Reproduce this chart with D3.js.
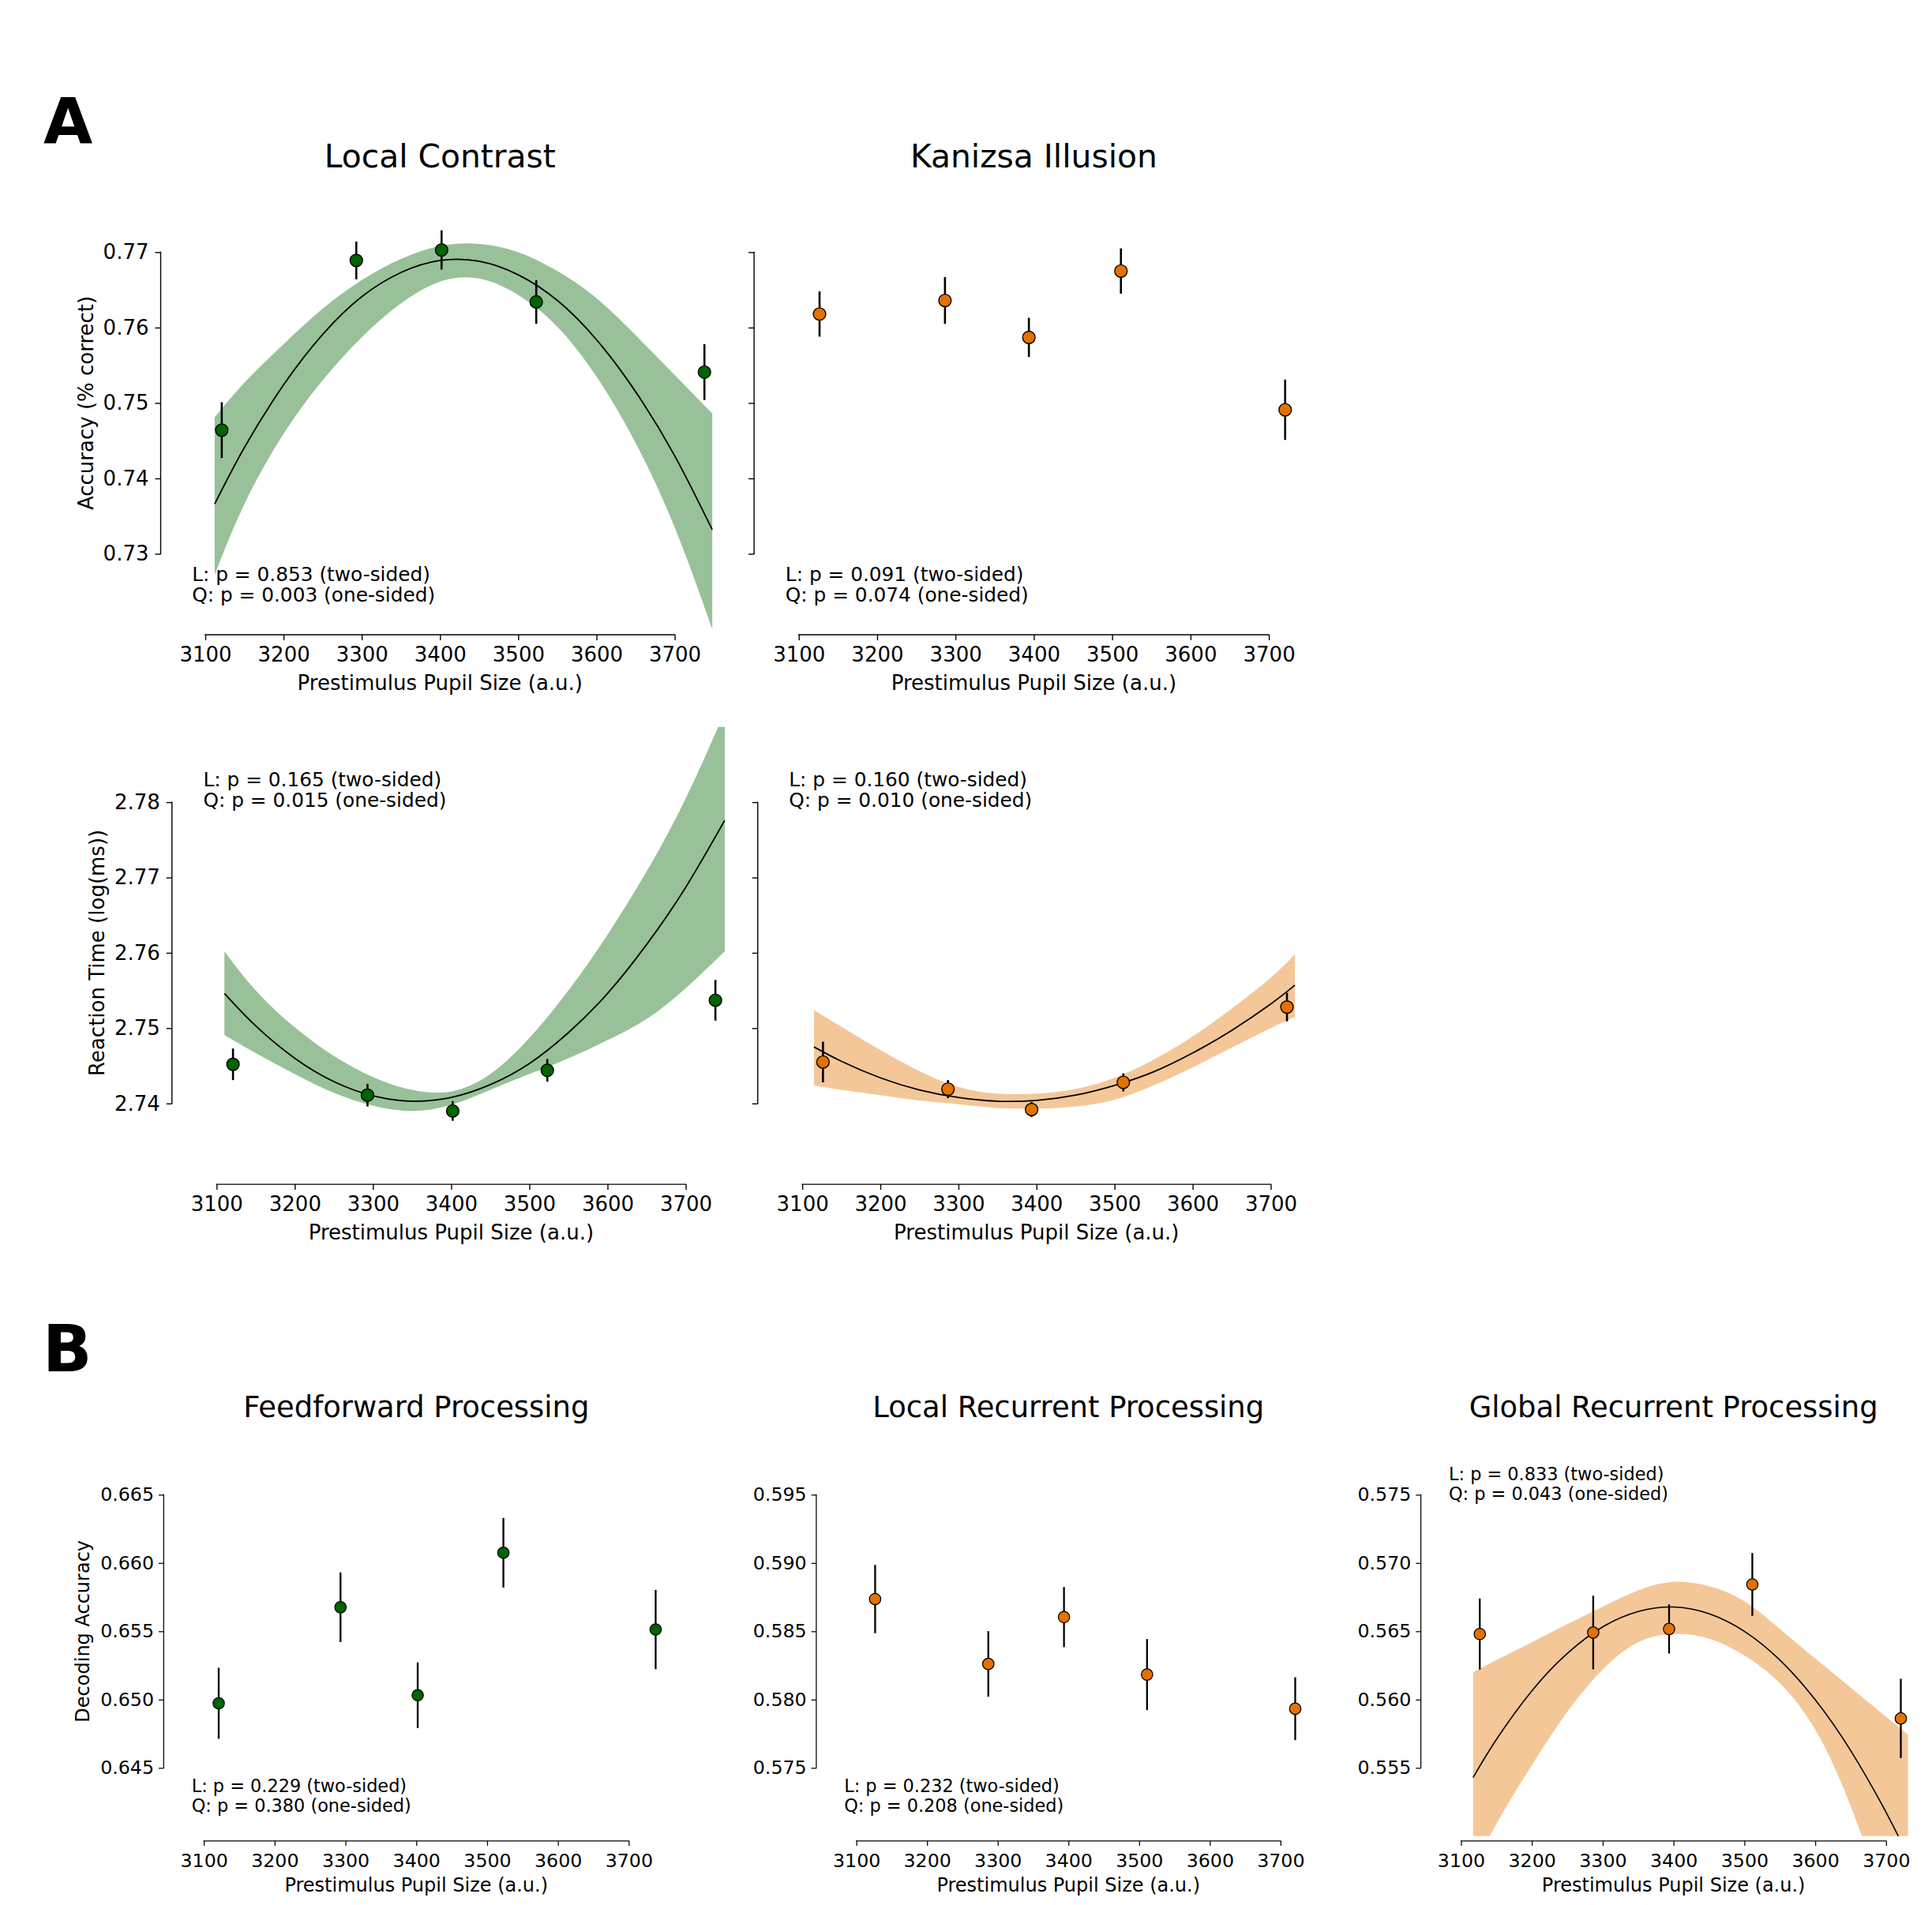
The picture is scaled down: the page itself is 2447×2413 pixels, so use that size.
<!DOCTYPE html>
<html>
<head>
<meta charset="utf-8">
<script src="https://cdn.jsdelivr.net/npm/d3@7"></script>
<style>
  body { margin: 0; background: #fff; }
  svg { display: block; }
</style>
</head>
<body>
<script>
const [W, H] = [2447, 2413];
const FONT = "'DejaVu Sans', sans-serif";

// pupil-size bins (dot x positions), one set per stimulus
const pupilLC = [3121, 3293, 3402, 3523, 3738];
const pupilKI = [3126.5, 3286.6, 3393.7, 3511.2, 3720.8];
const xTicks = [3100, 3200, 3300, 3400, 3500, 3600, 3700];
const xDomain = [3050, 3750];

// behaviour - accuracy
const accLC = [0.7464, 0.7689, 0.7703, 0.7634, 0.7541];
const accLCsem = [0.0037, 0.0025, 0.0026, 0.0029, 0.0037];
const accKI = [0.7618, 0.7636, 0.7587, 0.7675, 0.7491];
const accKIsem = [0.0030, 0.0031, 0.0026, 0.0030, 0.0040];
const accTicks = [0.73, 0.74, 0.75, 0.76, 0.77];

// behaviour - reaction time
const rtLC = [2.7452, 2.7411, 2.7390, 2.7444, 2.7537];
const rtLCsem = [0.0021, 0.0015, 0.0013, 0.0015, 0.0027];
const rtKI = [2.7455, 2.7419, 2.7392, 2.7428, 2.7528];
const rtKIsem = [0.0027, 0.0012, 0.0010, 0.0012, 0.0019];
const rtTicks = [2.74, 2.75, 2.76, 2.77, 2.78];

// decoding accuracy
const decFF = [0.64973, 0.65676, 0.65032, 0.66075, 0.65513];
const decFFsem = [0.0026, 0.00255, 0.0024, 0.00255, 0.0029];
const decLR = [0.58736, 0.58261, 0.58604, 0.58183, 0.57933];
const decLRsem = [0.0025, 0.0024, 0.0022, 0.0026, 0.0023];
const decGR = [0.5648, 0.56491, 0.56517, 0.56843, 0.55862];
const decGRsem = [0.0026, 0.0027, 0.0018, 0.0023, 0.0029];
const ffTicks = [0.645, 0.650, 0.655, 0.660, 0.665];
const lrTicks = [0.575, 0.580, 0.585, 0.590, 0.595];
const grTicks = [0.555, 0.560, 0.565, 0.570, 0.575];

// quadratic fits with their bands
const fitXAccLC = [3112, 3150, 3200, 3250, 3300, 3350, 3400, 3450, 3500, 3550, 3600, 3650, 3700, 3748];
const fitAccLC = [0.7366, 0.7441, 0.7524, 0.7591, 0.7641, 0.7673, 0.7689, 0.7688, 0.7670, 0.7636, 0.7584, 0.7515, 0.7430, 0.7332];
const hiAccLC = [0.7481, 0.7527, 0.7578, 0.7625, 0.7663, 0.7691, 0.7708, 0.7711, 0.7700, 0.7675, 0.7639, 0.7590, 0.7537, 0.7486];
const loAccLC = [0.7272, 0.7366, 0.7459, 0.7530, 0.7587, 0.7632, 0.7661, 0.7665, 0.7643, 0.7601, 0.7535, 0.7447, 0.7335, 0.7200];

const fitXRtLC = [3110, 3150, 3200, 3250, 3300, 3350, 3400, 3450, 3500, 3550, 3600, 3650, 3700, 3750];
const fitRtLC = [2.7546, 2.7503, 2.7460, 2.7429, 2.7410, 2.7403, 2.7408, 2.7425, 2.7453, 2.7494, 2.7546, 2.7611, 2.7687, 2.7776];
const hiRtLC = [2.7602, 2.7550, 2.7501, 2.7463, 2.7435, 2.7418, 2.7416, 2.7439, 2.7487, 2.7550, 2.7624, 2.7708, 2.7805, 2.7920];
const loRtLC = [2.7491, 2.7467, 2.7439, 2.7414, 2.7397, 2.7390, 2.7398, 2.7418, 2.7439, 2.7460, 2.7484, 2.7512, 2.7553, 2.7602];

const fitXRtKI = [3115, 3150, 3200, 3250, 3300, 3350, 3400, 3450, 3500, 3550, 3600, 3650, 3700, 3731];
const fitRtKI = [2.7475, 2.7456, 2.7434, 2.7418, 2.7408, 2.7403, 2.7404, 2.7411, 2.7424, 2.7442, 2.7467, 2.7497, 2.7532, 2.7557];
const hiRtKI = [2.7524, 2.7502, 2.7471, 2.7443, 2.7422, 2.7413, 2.7413, 2.7419, 2.7434, 2.7458, 2.7489, 2.7526, 2.7567, 2.7598];
const loRtKI = [2.7424, 2.7418, 2.7411, 2.7404, 2.7399, 2.7394, 2.7393, 2.7396, 2.7405, 2.7424, 2.7448, 2.7474, 2.7500, 2.7515];

const fitXGR = [3117, 3150, 3200, 3250, 3300, 3350, 3400, 3450, 3500, 3550, 3600, 3650, 3700, 3731];
const fitGR = [0.55429, 0.55708, 0.56064, 0.56338, 0.56532, 0.56645, 0.56678, 0.56629, 0.56500, 0.56290, 0.55999, 0.55627, 0.55175, 0.54854];
const hiGR = [0.56201, 0.56290, 0.56420, 0.56553, 0.56680, 0.56800, 0.56862, 0.56830, 0.56720, 0.56517, 0.56301, 0.56088, 0.55874, 0.55742];
const loGR = [0.54750, 0.55090, 0.55520, 0.55910, 0.56220, 0.56420, 0.56480, 0.56447, 0.56322, 0.56120, 0.55780, 0.55220, 0.54500, 0.54030];

const GREEN = '#006400';
const ORANGE = '#e37200';
const XLABEL = 'Prestimulus Pupil Size (a.u.)';

// the two halves of the figure are drawn at slightly different scales
const styleA = { tick: 26, label: 26, title: 40.8, note: 24.8, tickLen: 7, offset: 7, yPad: 8, xPad: 8.8,
                 r: 7.9, errW: 2.6, lineW: 1.8, spineW: 1.4, edgeW: 1.4,
                 titleUp: 11.7, xlabDown: 70, ylabLeft: 86, noteBottom: 35.3, noteTop: 75.3, noteLH: 26.2 };
const styleB = { tick: 23.7, label: 24, title: 36.9, note: 22.4, tickLen: 6.3, offset: 6, yPad: 6, xPad: 10,
                 r: 7.2, errW: 2.3, lineW: 1.6, spineW: 1.25, edgeW: 1.25,
                 titleUp: 11.8, xlabDown: 64.3, ylabLeft: 94.2, noteBottom: 31.1, noteTop: 68, noteLH: 25 };

const panels = [
    { id: 'a1', s: styleA, box: [210.5, 223.9, 693.6, 573.1], yDomain: [0.72, 0.78], yTicks: accTicks, yFmt: '.2f',
      showY: true, ylabel: 'Accuracy (% correct)', title: 'Local Contrast', color: GREEN,
      x: pupilLC, y: accLC, err: accLCsem, fit: [fitXAccLC, fitAccLC, loAccLC, hiAccLC],
      note: ['L: p = 0.853 (two-sided)', 'Q: p = 0.003 (one-sided)'], notePos: 'bottom' },
    { id: 'a2', s: styleA, box: [962.1, 223.9, 694.6, 573.1], yDomain: [0.72, 0.78], yTicks: accTicks, yFmt: '.2f',
      showY: false, title: 'Kanizsa Illusion', color: ORANGE,
      x: pupilKI, y: accKI, err: accKIsem,
      note: ['L: p = 0.091 (two-sided)', 'Q: p = 0.074 (one-sided)'], notePos: 'bottom' },
    { id: 'a3', s: styleA, box: [224.8, 920.7, 693.2, 572.4], yDomain: [2.73, 2.79], yTicks: rtTicks, yFmt: '.2f',
      showY: true, ylabel: 'Reaction Time (log(ms))', color: GREEN,
      x: pupilLC, y: rtLC, err: rtLCsem, fit: [fitXRtLC, fitRtLC, loRtLC, hiRtLC],
      note: ['L: p = 0.165 (two-sided)', 'Q: p = 0.015 (one-sided)'], notePos: 'top' },
    { id: 'a4', s: styleA, box: [966.7, 920.7, 692.2, 572.4], yDomain: [2.73, 2.79], yTicks: rtTicks, yFmt: '.2f',
      showY: false, color: ORANGE,
      x: pupilKI, y: rtKI, err: rtKIsem, fit: [fitXRtKI, fitRtKI, loRtKI, hiRtKI],
      note: ['L: p = 0.160 (two-sided)', 'Q: p = 0.010 (one-sided)'], notePos: 'top' },
    { id: 'b1', s: styleB, box: [213.3, 1806.8, 627.9, 519], yDomain: [0.640, 0.670], yTicks: ffTicks, yFmt: '.3f',
      showY: true, ylabel: 'Decoding Accuracy', title: 'Feedforward Processing', color: GREEN,
      x: pupilLC, y: decFF, err: decFFsem,
      note: ['L: p = 0.229 (two-sided)', 'Q: p = 0.380 (one-sided)'], notePos: 'bottom' },
    { id: 'b2', s: styleB, box: [1039.9, 1806.8, 626.7, 519], yDomain: [0.570, 0.600], yTicks: lrTicks, yFmt: '.3f',
      showY: true, title: 'Local Recurrent Processing', color: ORANGE,
      x: pupilKI, y: decLR, err: decLRsem,
      note: ['L: p = 0.232 (two-sided)', 'Q: p = 0.208 (one-sided)'], notePos: 'bottom' },
    { id: 'b3', s: styleB, box: [1805.6, 1806.8, 628.1, 519], yDomain: [0.550, 0.580], yTicks: grTicks, yFmt: '.3f',
      showY: true, title: 'Global Recurrent Processing', color: ORANGE,
      x: pupilKI, y: decGR, err: decGRsem, fit: [fitXGR, fitGR, loGR, hiGR],
      note: ['L: p = 0.833 (two-sided)', 'Q: p = 0.043 (one-sided)'], notePos: 'top' }
];

function drawPanel(svg, p) {
    const s = p.s;
    const [x0, y0, w, h] = p.box;
    const x = d3.scaleLinear().domain(xDomain).range([x0, x0 + w]);
    const y = d3.scaleLinear().domain(p.yDomain).range([y0 + h, y0]);
    const g = svg.append('g').attr('id', p.id);

    const clipId = 'clip-' + p.id;
    svg.append('clipPath').attr('id', clipId)
        .append('rect').attr('x', x0).attr('y', y0).attr('width', w).attr('height', h);

    // fit + band
    if (p.fit) {
        const [fx, fy, lo, hi] = p.fit;
        const pts = fx.map((v, i) => ({ x: v, y: fy[i], lo: lo[i], hi: hi[i] }));
        g.append('path').datum(pts)
            .attr('clip-path', `url(#${clipId})`)
            .attr('fill', p.color).attr('fill-opacity', 0.4)
            .attr('d', d3.area().x(d => x(d.x)).y0(d => y(d.lo)).y1(d => y(d.hi)).curve(d3.curveNatural));
        g.append('path').datum(pts)
            .attr('clip-path', `url(#${clipId})`)
            .attr('fill', 'none').attr('stroke', '#000').attr('stroke-width', s.lineW)
            .attr('d', d3.line().x(d => x(d.x)).y(d => y(d.y)).curve(d3.curveNatural));
    }

    const dots = p.x.map((v, i) => ({ x: v, y: p.y[i], e: p.err[i] }));

    // error bars
    g.selectAll('.err').data(dots).enter().append('line')
        .attr('class', 'err')
        .attr('x1', d => x(d.x)).attr('x2', d => x(d.x))
        .attr('y1', d => y(d.y - d.e)).attr('y2', d => y(d.y + d.e))
        .attr('stroke', '#000').attr('stroke-width', s.errW);

    // points
    g.selectAll('.dot').data(dots).enter().append('circle')
        .attr('class', 'dot')
        .attr('cx', d => x(d.x)).attr('cy', d => y(d.y))
        .attr('r', s.r)
        .attr('fill', p.color)
        .attr('stroke', '#000').attr('stroke-width', s.edgeW);

    // y axis (offset + trimmed spine)
    const yAxis = d3.axisLeft(y).tickValues(p.yTicks).tickSize(s.tickLen).tickPadding(s.yPad)
        .tickFormat(p.showY ? d3.format(p.yFmt) : () => '');
    const ya = g.append('g').attr('transform', `translate(${x0 - s.offset},0)`).call(yAxis);
    ya.attr('font-family', FONT).attr('font-size', s.tick);
    ya.select('.domain').remove();
    ya.selectAll('.tick line').attr('stroke-width', s.spineW);
    ya.selectAll('.tick text').attr('fill', '#000');
    ya.append('line')
        .attr('y1', y(p.yTicks[0])).attr('y2', y(p.yTicks[p.yTicks.length - 1]))
        .attr('stroke', '#000').attr('stroke-width', s.spineW).attr('stroke-linecap', 'square');

    // x axis
    const xAxis = d3.axisBottom(x).tickValues(xTicks).tickSize(s.tickLen).tickPadding(s.xPad).tickFormat(d3.format('d'));
    const xa = g.append('g').attr('transform', `translate(0,${y0 + h + s.offset})`).call(xAxis);
    xa.attr('font-family', FONT).attr('font-size', s.tick);
    xa.select('.domain').remove();
    xa.selectAll('.tick line').attr('stroke-width', s.spineW);
    xa.selectAll('.tick text').attr('fill', '#000');
    xa.append('line')
        .attr('x1', x(xTicks[0])).attr('x2', x(xTicks[xTicks.length - 1]))
        .attr('stroke', '#000').attr('stroke-width', s.spineW).attr('stroke-linecap', 'square');

    // labels
    g.append('text')
        .attr('x', x0 + w / 2).attr('y', y0 + h + s.offset + s.xlabDown)
        .attr('text-anchor', 'middle')
        .attr('font-family', FONT).attr('font-size', s.label)
        .text(XLABEL);

    if (p.ylabel) {
        const lx = x0 - s.offset - s.ylabLeft;
        g.append('text')
            .attr('transform', `translate(${lx},${y0 + h / 2}) rotate(-90)`)
            .attr('text-anchor', 'middle')
            .attr('font-family', FONT).attr('font-size', s.label)
            .text(p.ylabel);
    }

    if (p.title) {
        g.append('text')
            .attr('x', x0 + w / 2).attr('y', y0 - s.titleUp)
            .attr('text-anchor', 'middle')
            .attr('font-family', FONT).attr('font-size', s.title)
            .text(p.title);
    }

    // p-value note
    let b1;
    if (p.notePos === 'bottom') b1 = y0 + h - s.noteBottom - s.noteLH;
    else b1 = y0 + s.noteTop;
    g.selectAll('.note').data(p.note).enter().append('text')
        .attr('class', 'note')
        .attr('x', x0 + 0.05 * w - 2)
        .attr('y', (d, i) => b1 + i * s.noteLH)
        .attr('font-family', FONT).attr('font-size', s.note)
        .text(d => d);
}

function main() {
    const svg = d3.select('body').append('svg')
        .attr('width', W).attr('height', H)
        .attr('viewBox', `0 0 ${W} ${H}`);

    svg.append('rect').attr('width', W).attr('height', H).attr('fill', '#fff');

    panels.forEach(p => drawPanel(svg, p));

    // panel letters
    svg.append('text').attr('x', 55).attr('y', 181.6)
        .attr('font-family', FONT).attr('font-weight', 'bold').attr('font-size', 80.5)
        .text('A');
    svg.append('text').attr('x', 54).attr('y', 1736.6)
        .attr('font-family', FONT).attr('font-weight', 'bold').attr('font-size', 82)
        .text('B');
}

document.addEventListener('DOMContentLoaded', main);
</script>
</body>
</html>
